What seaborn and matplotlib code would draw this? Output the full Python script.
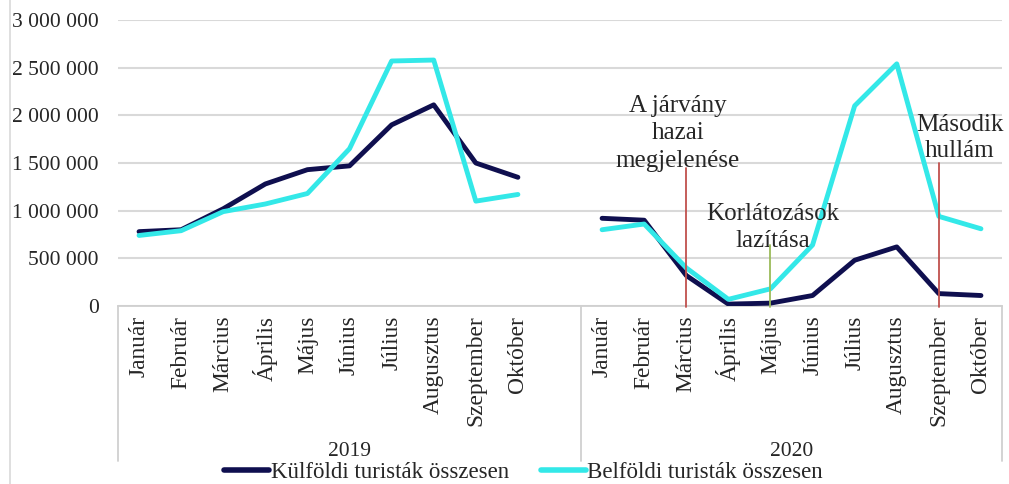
import pandas as pd
import numpy as np
import matplotlib.pyplot as plt
import matplotlib.transforms as mtransforms
from matplotlib.lines import Line2D
import seaborn as sns

# Adatok
honapok = ['Január', 'Február', 'Március', 'Április', 'Május', 'Június',
           'Július', 'Augusztus', 'Szeptember', 'Október']
evek = ['2019', '2020']
kulfoldi_2019 = [780000, 800000, 1020000, 1280000, 1430000, 1470000, 1900000, 2110000, 1500000, 1350000]
belfoldi_2019 = [740000, 790000, 990000, 1070000, 1180000, 1650000, 2570000, 2580000, 1100000, 1170000]
kulfoldi_2020 = [920000, 900000, 320000, 20000, 30000, 110000, 480000, 620000, 130000, 110000]
belfoldi_2020 = [800000, 860000, 400000, 70000, 180000, 640000, 2100000, 2540000, 940000, 810000]
sorozat_nevek = ['Külföldi turisták összesen', 'Belföldi turisták összesen']
yticks = [0, 500000, 1000000, 1500000, 2000000, 2500000, 3000000]

# Események: (év, hónap, magasság, szín, felirat)
esemenyek = [('2020', 'Március', 1450000, '#c0504d', 'A járvány\nhazai\nmegjelenése'),
             ('2020', 'Május', 640000, '#9bbb59', 'Korlátozások\nlazítása'),
             ('2020', 'Szeptember', 1500000, '#c0504d', 'Második\nhullám')]

# Kategória pozíciók: 2019 után egy üres hely
pos_2019 = list(range(0, 10))
pos_2020 = list(range(11, 21))

df = pd.concat([
    pd.DataFrame({'pos': pos_2019, 'ertek': kulfoldi_2019, 'sorozat': sorozat_nevek[0], 'ev': '2019'}),
    pd.DataFrame({'pos': pos_2019, 'ertek': belfoldi_2019, 'sorozat': sorozat_nevek[1], 'ev': '2019'}),
    pd.DataFrame({'pos': pos_2020, 'ertek': kulfoldi_2020, 'sorozat': sorozat_nevek[0], 'ev': '2020'}),
    pd.DataFrame({'pos': pos_2020, 'ertek': belfoldi_2020, 'sorozat': sorozat_nevek[1], 'ev': '2020'}),
])

sns.set_style('white')
plt.rcParams['font.family'] = ['Liberation Serif', 'DejaVu Serif']

fig = plt.figure(figsize=(10.09, 4.84), dpi=100)
ax = fig.add_axes([118 / 1009, 178 / 484, 884 / 1009, 286 / 484])

szinek = {sorozat_nevek[0]: '#0f0f4f', sorozat_nevek[1]: '#33e8e8'}
sns.lineplot(data=df, x='pos', y='ertek', hue='sorozat', units='ev', estimator=None,
             palette=szinek, linewidth=3.5, ax=ax, legend=False, zorder=3)

ax.set_xlim(-0.5, 20.5)
ax.set_ylim(0, 3000000)
ax.set_yticks(yticks)
ax.set_yticklabels([f'{v:,}'.replace(',', ' ') for v in yticks], fontsize=15.5)
ax.yaxis.grid(True, color='#d9d9d9', linewidth=1.5)
ax.set_axisbelow(True)
for s in ['top', 'right', 'left']:
    ax.spines[s].set_visible(False)
ax.spines['bottom'].set_color('#d0d0d0')
ax.spines['bottom'].set_linewidth(1.3)
ax.tick_params(axis='y', length=0, pad=14)

ax.set_xticks(pos_2019 + pos_2020)
ax.set_xticklabels(honapok + honapok, rotation=90, fontsize=16.8)
ax.tick_params(axis='x', length=0, pad=7)
ax.set_xlabel('')
ax.set_ylabel('')

# Többszintű kategóriatengely vonalai és évcímkék
trans = mtransforms.blended_transform_factory(ax.transData, ax.transAxes)
for x in [-0.5, 10.5, 20.5]:
    ax.plot([x, x], [0, -0.542], color='#d0d0d0', linewidth=1.3, transform=trans, clip_on=False)
ax.text(5, -0.51, evek[0], transform=trans, ha='center', va='center', fontsize=15.5)
ax.text(15.5, -0.51, evek[1], transform=trans, ha='center', va='center', fontsize=15.5)

# Események vonalai és feliratai
for ev, honap, magassag, szin, felirat in esemenyek:
    p = (pos_2019 if ev == '2019' else pos_2020)[honapok.index(honap)]
    ax.plot([p, p], [-15000, magassag], color=szin, linewidth=1.3, zorder=4, clip_on=False)

ax.text(12.8, 1410000, esemenyek[0][4], ha='center', va='bottom', fontsize=18, linespacing=1.3)
ax.text(15.05, 565000, esemenyek[1][4], ha='center', va='bottom', fontsize=18, linespacing=1.3)
ax.text(19.5, 1510000, esemenyek[2][4], ha='center', va='bottom', fontsize=18, linespacing=1.25)

# Jelmagyarázat
kezek = [Line2D([0], [0], color=szinek[n], linewidth=4) for n in sorozat_nevek]
fig.legend(kezek, sorozat_nevek, loc='center', bbox_to_anchor=(0.519, 0.023), ncol=2,
           frameon=False, fontsize=16.5, handlelength=1.95, handletextpad=0.08,
           columnspacing=1.4, borderpad=0, borderaxespad=0)

# Diagram bal szegélye
fig.add_artist(Line2D([10 / 1009, 10 / 1009], [0, 1], color='#d9d9d9', linewidth=1.2))

plt.savefig('out.png', dpi=100)
